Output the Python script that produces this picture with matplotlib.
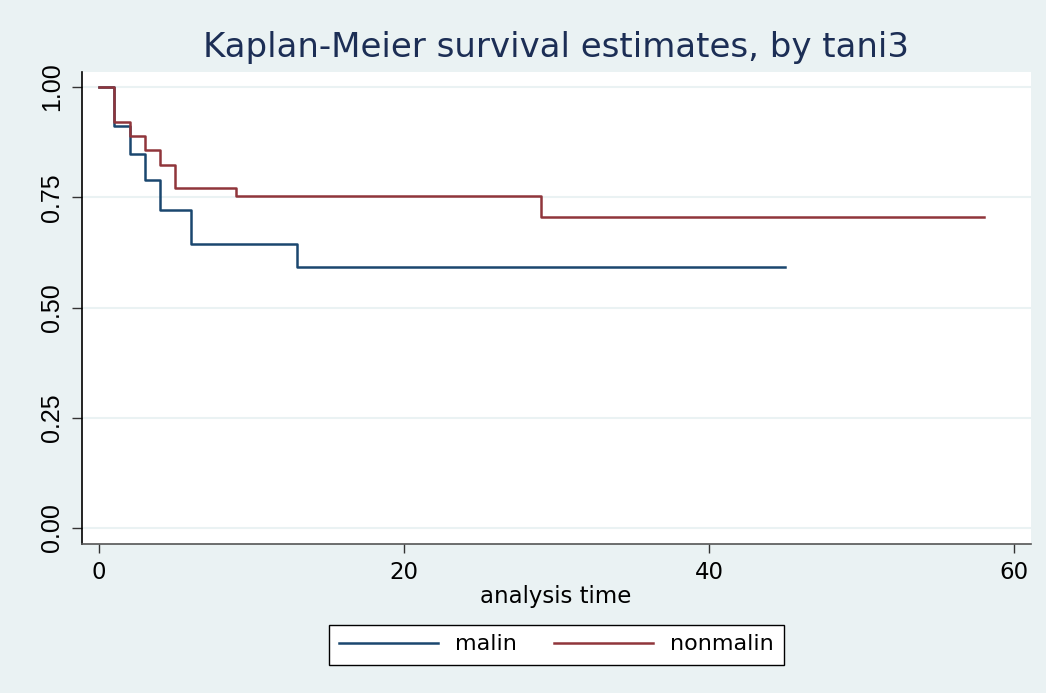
import matplotlib
matplotlib.use("Agg")
import matplotlib.pyplot as plt

plt.rcParams['font.family'] = ['DejaVu Sans']

# Kaplan-Meier step data (time, survival)
malin_t = [0, 1, 2, 3, 4, 6, 13, 45]
malin_s = [1.0, 0.912, 0.849, 0.788, 0.722, 0.643, 0.591, 0.591]
nonmalin_t = [0, 1, 2, 3, 4, 5, 9, 29, 58]
nonmalin_s = [1.0, 0.921, 0.889, 0.857, 0.822, 0.771, 0.752, 0.706, 0.706]

x_ticks = [0, 20, 40, 60]
y_ticks = [0.00, 0.25, 0.50, 0.75, 1.00]
y_labels = ["0.00", "0.25", "0.50", "0.75", "1.00"]

BG = "#EAF2F3"
BLUE = "#1A476F"
RED = "#90353B"
TITLE = "#1C2E55"
W, H = 1046, 693

fig = plt.figure(figsize=(W/100, H/100), dpi=100, facecolor=BG)
L, R, T, B = 82, 1031, 72, 544
ax = fig.add_axes([L/W, 1 - B/H, (R-L)/W, (B-T)/H])
ax.set_facecolor("white")

ax.step(malin_t, malin_s, where="post", color=BLUE, lw=1.8, label="malin")
ax.step(nonmalin_t, nonmalin_s, where="post", color=RED, lw=1.8, label="nonmalin")

# axis mapping: x 0 -> px 99, 60 -> px 1014 ; y 1 -> 87, 0 -> 528
xpx = lambda p: (p - 99) / 15.25
ax.set_xlim(xpx(L), xpx(R))
ypx = lambda p: 1 - (p - 87) / 441
ax.set_ylim(ypx(B), ypx(T))

ax.set_xticks(x_ticks)
ax.set_yticks(y_ticks)
ax.set_yticklabels(y_labels, rotation=90, va="center",
                   family=['Liberation Sans'], fontsize=18)
ax.tick_params(axis="x", labelsize=16.5, length=6.5, width=1, color="#333333", pad=6)
ax.tick_params(axis="y", length=7, width=1, color="#333333", pad=6)
ax.grid(axis="y", color=BG, lw=1.5)
ax.set_axisbelow(True)
for s in ["top", "right"]:
    ax.spines[s].set_visible(False)
ax.spines["left"].set_linewidth(1.2)
ax.spines["left"].set_color("black")
ax.spines["bottom"].set_linewidth(1.2)
ax.spines["bottom"].set_color("#555555")

fig.text(556/W, 1 - 597/H, "analysis time", ha="center", va="center",
         fontsize=16.5)
fig.text(556/W, 1 - 57/H, "Kaplan-Meier survival estimates, by tani3",
         ha="center", va="baseline", fontsize=24.5, color=TITLE)

leg = fig.legend(loc="center", bbox_to_anchor=(556.5/W, 1 - 644.5/H),
                 ncol=2, fontsize=16, frameon=True, fancybox=False,
                 edgecolor="black", framealpha=1, facecolor="white",
                 handlelength=4.45, handletextpad=0.77, columnspacing=1.7,
                 borderpad=0.45)
leg.get_frame().set_linewidth(1.0)

fig.savefig("out.png", dpi=100, facecolor=BG)
